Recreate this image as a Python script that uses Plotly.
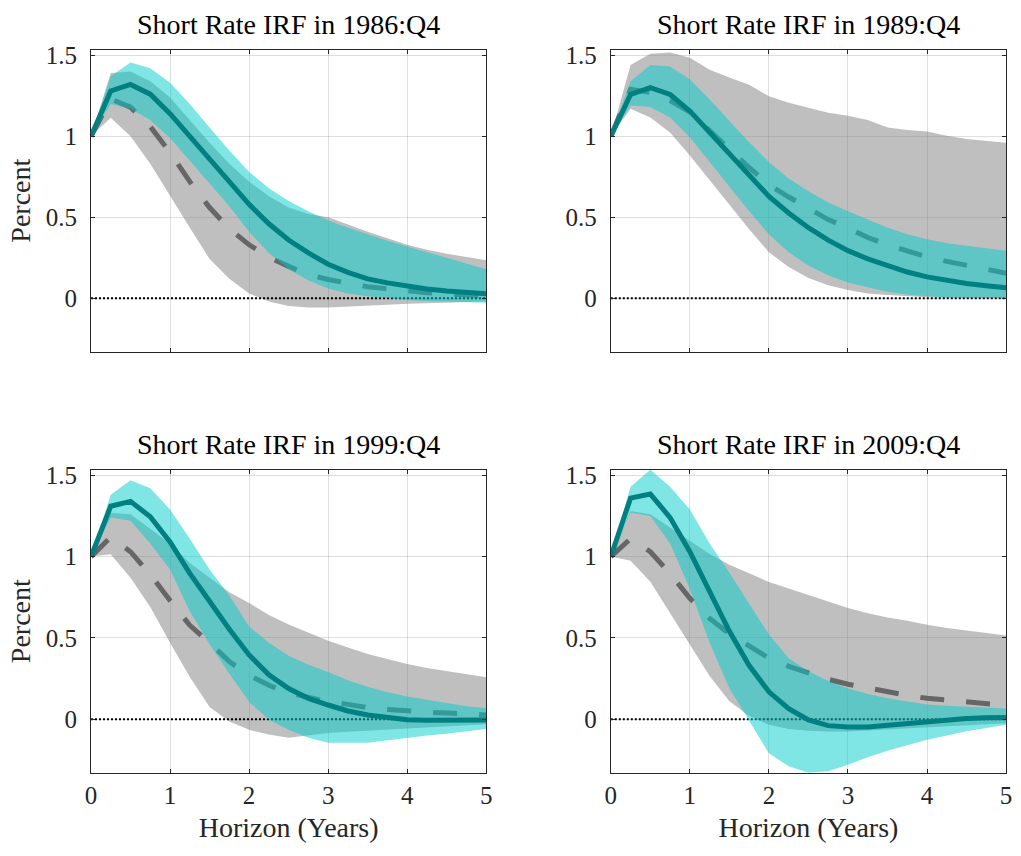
import plotly.graph_objects as go

# ---------------- data ----------------
horizon = [0, 0.25, 0.5, 0.75, 1, 1.25, 1.5, 1.75, 2, 2.25, 2.5, 2.75,
           3, 3.25, 3.5, 3.75, 4, 4.25, 4.5, 4.75, 5]

titles = ["Short Rate IRF in 1986:Q4", "Short Rate IRF in 1989:Q4",
          "Short Rate IRF in 1999:Q4", "Short Rate IRF in 2009:Q4"]

x_ticks = [0, 1, 2, 3, 4, 5]
y_ticks = [0, 0.5, 1, 1.5]
y_ticklabels = ["0", "0.5", "1", "1.5"]

# 1986:Q4
solid_1986 = [1.0, 1.28, 1.32, 1.26, 1.14, 1.0, 0.86, 0.72, 0.58, 0.46, 0.36, 0.28, 0.21, 0.16, 0.12, 0.095, 0.075, 0.058, 0.045, 0.035, 0.028]
dashed_1986 = [1.0, 1.23, 1.18, 1.06, 0.9, 0.72, 0.56, 0.43, 0.33, 0.254, 0.197, 0.146, 0.116, 0.09, 0.071, 0.059, 0.045, 0.034, 0.026, 0.02, 0.016]
gray_hi_1986 = [1.0, 1.39, 1.40, 1.34, 1.24, 1.10, 0.96, 0.83, 0.72, 0.63, 0.56, 0.52, 0.50, 0.455, 0.41, 0.37, 0.33, 0.30, 0.275, 0.255, 0.235]
gray_lo_1986 = [1.0, 1.115, 1.0, 0.83, 0.63, 0.436, 0.243, 0.12, 0.03, -0.02, -0.048, -0.057, -0.057, -0.052, -0.046, -0.04, -0.034, -0.03, -0.026, -0.023, -0.02]
cyan_hi_1986 = [1.0, 1.37, 1.455, 1.42, 1.33, 1.2, 1.055, 0.913, 0.78, 0.68, 0.6, 0.537, 0.48, 0.435, 0.395, 0.355, 0.32, 0.285, 0.25, 0.215, 0.18]
cyan_lo_1986 = [1.0, 1.2, 1.17, 1.1, 0.99, 0.85, 0.71, 0.568, 0.41, 0.28, 0.18, 0.11, 0.06, 0.03, 0.012, 0.0, -0.01, -0.016, -0.02, -0.024, -0.027]

# 1989:Q4
solid_1989 = [1.0, 1.258, 1.30, 1.258, 1.156, 1.024, 0.892, 0.76, 0.629, 0.527, 0.436, 0.359, 0.294, 0.243, 0.199, 0.162, 0.132, 0.11, 0.091, 0.077, 0.065]
dashed_1989 = [1.0, 1.29, 1.27, 1.22, 1.15, 1.04, 0.92, 0.807, 0.70, 0.625, 0.557, 0.486, 0.434, 0.375, 0.33, 0.29, 0.255, 0.228, 0.203, 0.178, 0.155]
gray_hi_1989 = [1.0, 1.44, 1.51, 1.517, 1.485, 1.41, 1.363, 1.318, 1.247, 1.207, 1.176, 1.146, 1.126, 1.10, 1.055, 1.039, 1.03, 1.004, 0.984, 0.97, 0.96]
gray_lo_1989 = [1.0, 1.17, 1.116, 1.024, 0.882, 0.73, 0.578, 0.426, 0.284, 0.193, 0.126, 0.081, 0.051, 0.03, 0.02, 0.012, 0.006, 0.003, 0.001, 0.0, 0.0]
cyan_hi_1989 = [1.0, 1.34, 1.44, 1.43, 1.35, 1.227, 1.095, 0.963, 0.84, 0.74, 0.66, 0.592, 0.537, 0.487, 0.436, 0.396, 0.365, 0.34, 0.325, 0.308, 0.294]
cyan_lo_1989 = [1.0, 1.19, 1.18, 1.116, 0.994, 0.842, 0.69, 0.537, 0.396, 0.284, 0.203, 0.142, 0.097, 0.067, 0.041, 0.024, 0.012, 0.006, 0.003, 0.001, 0.0]

# 1999:Q4
solid_1999 = [1.0, 1.31, 1.34, 1.245, 1.09, 0.897, 0.725, 0.553, 0.395, 0.273, 0.188, 0.128, 0.087, 0.05, 0.026, 0.01, -0.004, -0.007, -0.007, -0.006, -0.005]
dashed_1999 = [1.0, 1.12, 1.03, 0.89, 0.73, 0.577, 0.47, 0.354, 0.27, 0.208, 0.162, 0.132, 0.107, 0.091, 0.071, 0.06, 0.05, 0.043, 0.038, 0.032, 0.026]
gray_hi_1999 = [1.0, 1.27, 1.26, 1.17, 1.08, 0.96, 0.87, 0.78, 0.715, 0.64, 0.583, 0.53, 0.482, 0.44, 0.40, 0.37, 0.34, 0.315, 0.295, 0.275, 0.257]
gray_lo_1999 = [1.0, 1.015, 0.87, 0.69, 0.47, 0.26, 0.075, -0.015, -0.065, -0.095, -0.115, -0.10, -0.085, -0.078, -0.07, -0.063, -0.056, -0.05, -0.044, -0.038, -0.032]
cyan_hi_1999 = [1.0, 1.38, 1.47, 1.42, 1.29, 1.11, 0.92, 0.76, 0.57, 0.47, 0.39, 0.335, 0.29, 0.24, 0.2, 0.165, 0.14, 0.12, 0.1, 0.08, 0.067]
cyan_lo_1999 = [1.0, 1.24, 1.22, 1.08, 0.92, 0.664, 0.46, 0.28, 0.107, -0.004, -0.065, -0.115, -0.146, -0.146, -0.146, -0.13, -0.115, -0.10, -0.09, -0.075, -0.06]

# 2009:Q4
solid_2009 = [1.0, 1.36, 1.385, 1.24, 1.03, 0.79, 0.54, 0.33, 0.168, 0.065, -0.005, -0.04, -0.049, -0.048, -0.037, -0.025, -0.014, -0.006, 0.004, 0.008, 0.01]
dashed_2009 = [1.0, 1.11, 1.03, 0.895, 0.743, 0.62, 0.525, 0.45, 0.375, 0.325, 0.283, 0.245, 0.215, 0.19, 0.166, 0.146, 0.128, 0.117, 0.106, 0.095, 0.085]
gray_hi_2009 = [1.0, 1.28, 1.26, 1.18, 1.10, 1.016, 0.95, 0.895, 0.844, 0.804, 0.763, 0.723, 0.684, 0.652, 0.625, 0.605, 0.58, 0.56, 0.547, 0.53, 0.514]
gray_lo_2009 = [1.0, 0.975, 0.845, 0.655, 0.46, 0.265, 0.11, 0.02, -0.035, -0.06, -0.072, -0.076, -0.076, -0.072, -0.066, -0.058, -0.05, -0.044, -0.038, -0.032, -0.025]
cyan_hi_2009 = [1.0, 1.43, 1.535, 1.43, 1.29, 1.08, 0.9, 0.71, 0.52, 0.375, 0.295, 0.235, 0.188, 0.155, 0.128, 0.108, 0.09, 0.082, 0.076, 0.07, 0.066]
cyan_lo_2009 = [1.0, 1.27, 1.25, 1.08, 0.8, 0.47, 0.19, -0.01, -0.21, -0.29, -0.33, -0.32, -0.28, -0.235, -0.195, -0.16, -0.127, -0.1, -0.075, -0.055, -0.035]

panels = [
    (solid_1986, dashed_1986, gray_lo_1986, gray_hi_1986, cyan_lo_1986, cyan_hi_1986),
    (solid_1989, dashed_1989, gray_lo_1989, gray_hi_1989, cyan_lo_1989, cyan_hi_1989),
    (solid_1999, dashed_1999, gray_lo_1999, gray_hi_1999, cyan_lo_1999, cyan_hi_1999),
    (solid_2009, dashed_2009, gray_lo_2009, gray_hi_2009, cyan_lo_2009, cyan_hi_2009),
]

# ---------------- style ----------------
W, H = 1021, 856
FONT = "Liberation Serif"
AX = "#262626"
GRAY_FILL = "rgba(128,128,128,0.5)"
CYAN_FILL = "rgba(0,204,204,0.5)"
TEAL = "#008080"
DASH_GRAY = "#666666"

x_dom = [[86 / W, 486 / W], [612 / W, 1012 / W]]
y_dom = [[1 - 347 / H, 1 - 42 / H], [1 - 772 / H, 1 - 466 / H]]

all_vals = [v for p in panels for arr in p for v in arr]
y_range = [min(all_vals), max(all_vals)]
x_range = [horizon[0], horizon[-1]]

fig = go.Figure()
layout = dict(
    width=W, height=H, autosize=False,
    margin=dict(l=0, r=0, t=0, b=0),
    paper_bgcolor="white", plot_bgcolor="white",
    showlegend=False,
    font=dict(family=FONT, color=AX, size=25),
    annotations=[],
)

for i, (solid, dashed, glo, ghi, clo, chi) in enumerate(panels):
    row, col = divmod(i, 2)
    n = i + 1
    xa = "x" if n == 1 else f"x{n}"
    ya = "y" if n == 1 else f"y{n}"
    kw = dict(xaxis=xa, yaxis=ya, hoverinfo="skip")

    fig.add_trace(go.Scatter(x=horizon + horizon[::-1], y=ghi + glo[::-1],
                             fill="toself", fillcolor=GRAY_FILL,
                             line=dict(width=0), mode="lines", **kw))
    fig.add_trace(go.Scatter(x=horizon, y=dashed, mode="lines",
                             line=dict(color=DASH_GRAY, width=5, dash="24px,22px"), **kw))
    fig.add_trace(go.Scatter(x=x_range, y=[0, 0], mode="lines",
                             line=dict(color="black", width=2, dash="2px,2px"), **kw))
    fig.add_trace(go.Scatter(x=horizon + horizon[::-1], y=chi + clo[::-1],
                             fill="toself", fillcolor=CYAN_FILL,
                             line=dict(width=0), mode="lines", **kw))
    fig.add_trace(go.Scatter(x=horizon, y=solid, mode="lines",
                             line=dict(color=TEAL, width=5), **kw))

    xkey = "xaxis" if n == 1 else f"xaxis{n}"
    ykey = "yaxis" if n == 1 else f"yaxis{n}"
    bottom = row == 1
    layout[xkey] = dict(
        domain=x_dom[col], anchor=ya, range=x_range,
        tickmode="array", tickvals=x_ticks, ticktext=[str(t) for t in x_ticks],
        showticklabels=bottom, ticks="inside", ticklen=4, tickcolor=AX, tickwidth=1,
        showline=True, linecolor=AX, linewidth=1, mirror="ticks",
        showgrid=True, gridcolor="rgba(38,38,38,0.15)", gridwidth=1,
        zeroline=False, tickfont=dict(size=25, family=FONT, color=AX),
        ticklabelstandoff=0,
        title=dict(text="Horizon (Years)" if bottom else "",
                   font=dict(size=28, family=FONT, color=AX), standoff=9),
    )
    layout[ykey] = dict(
        domain=y_dom[row], anchor=xa, range=y_range,
        tickmode="array", tickvals=y_ticks, ticktext=y_ticklabels,
        ticks="inside", ticklen=4, tickcolor=AX, tickwidth=1,
        showline=True, linecolor=AX, linewidth=1, mirror="ticks",
        showgrid=True, gridcolor="rgba(38,38,38,0.15)", gridwidth=1,
        zeroline=False, tickfont=dict(size=25, family=FONT, color=AX),
        ticklabelstandoff=8,
        title=dict(text="Percent" if col == 0 else "",
                   font=dict(size=28, family=FONT, color=AX), standoff=6),
    )
    layout["annotations"].append(dict(
        text=titles[i], xref="paper", yref="paper",
        x=(x_dom[col][0] + x_dom[col][1]) / 2, y=y_dom[row][1],
        xanchor="center", yanchor="bottom", yshift=8, showarrow=False,
        font=dict(size=28, family=FONT, color="black"),
    ))

fig.update_layout(**layout)
fig.write_html("out.html")
